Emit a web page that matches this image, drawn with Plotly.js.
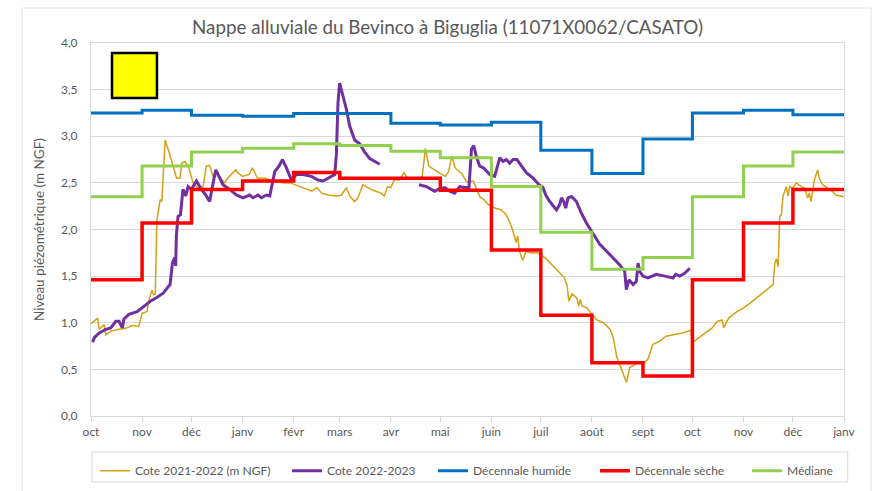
<!DOCTYPE html>
<html><head><meta charset="utf-8">
<script src="https://cdn.plot.ly/plotly-3.0.1.min.js"></script>
<style>html,body{margin:0;padding:0;background:#fff}#chart{width:881px;height:491px}</style>
</head><body><div id="chart"></div>
<script>
// ---- data ----
const monthStarts = ['2021-10-01','2021-11-01','2021-12-01','2022-01-01','2022-02-01','2022-03-01','2022-04-01','2022-05-01','2022-06-01','2022-07-01','2022-08-01','2022-09-01','2022-10-01','2022-11-01','2022-12-01','2023-01-01'];
const monthLabels = ['oct','nov','déc','janv','févr','mars','avr','mai','juin','juil','août','sept','oct','nov','déc','janv'];
const yTicks = [0,0.5,1,1.5,2,2.5,3,3.5,4];

// monthly reference levels (m NGF), oct -> déc
const decennaleHumide = [3.25,3.28,3.225,3.215,3.245,3.245,3.14,3.12,3.15,2.85,2.60,2.97,3.25,3.28,3.23];
const decennaleSeche  = [1.46,2.07,2.43,2.52,2.61,2.55,2.55,2.42,1.78,1.08,0.57,0.43,1.46,2.07,2.43];
const mediane         = [2.35,2.68,2.83,2.87,2.92,2.90,2.84,2.77,2.46,1.97,1.575,1.70,2.35,2.68,2.83];

// days since 1 oct 2021
const cote2122Days = [0,4,5,8,9,12,17,21,25,29,31,34,35,37,38,39,40,42,43,44,45,47,50,52,54,55,57,59,62,65,68,70,72,74,76,79,81,84,88,89,92,96,98,101,106,110,117,121,124,127,131,134,137,140,144,149,152,155,157,160,162,165,167,170,173,176,178,180,182,184,187,190,192,195,199,201,203,205,210,212,215,217,219,221,225,228,232,234,236,238,241,245,249,252,255,257,258,259,260,262,264,267,271,276,282,287,289,290,292,295,296,297,298,301,304,307,311,315,317,319,322,325,327,332,336,338,341,345,349,354,359,364,365,369,373,377,380,383,384,387,392,396,400,404,408,412,414,415,416,417,418,419,420,422,423,424,426,428,431,433,435,436,437,439,441,442,444,447,450,452,455,457];
const cote2122 = [0.99,1.05,0.93,0.98,0.87,0.91,0.93,0.94,0.97,0.96,1.10,1.12,1.23,1.35,1.30,1.31,2.10,2.32,2.30,2.64,2.96,2.85,2.68,2.55,2.55,2.71,2.73,2.68,2.50,2.44,2.46,2.68,2.69,2.57,2.61,2.55,2.50,2.57,2.64,2.61,2.57,2.59,2.66,2.55,2.55,2.52,2.50,2.50,2.48,2.46,2.43,2.41,2.45,2.39,2.37,2.36,2.37,2.45,2.36,2.30,2.34,2.48,2.46,2.43,2.41,2.39,2.36,2.46,2.45,2.53,2.53,2.61,2.55,2.55,2.55,2.57,2.87,2.68,2.62,2.60,2.57,2.62,2.79,2.66,2.60,2.51,2.52,2.43,2.35,2.33,2.27,2.23,2.21,2.16,2.04,1.93,1.86,1.93,1.77,1.67,1.76,1.75,1.75,1.69,1.58,1.49,1.40,1.23,1.31,1.26,1.18,1.25,1.18,1.16,1.09,1.03,1.00,0.93,0.84,0.64,0.50,0.36,0.52,0.57,0.57,0.61,0.77,0.80,0.855,0.87,0.89,0.92,0.785,0.84,0.89,0.945,1.015,1.03,0.945,1.05,1.12,1.16,1.21,1.27,1.32,1.39,1.41,1.64,1.685,1.60,2.14,2.16,2.36,2.46,2.36,2.46,2.445,2.50,2.46,2.445,2.34,2.39,2.30,2.53,2.64,2.55,2.48,2.445,2.41,2.37,2.36,2.35];

const cote2223Days = [1,2,5,9,12,15,17,19,20,23,28,32,36,40,44,47,48,49.4,50.8,51.4,51.8,52.8,54.3,55.8,57.5,58.9,60.9,64,67,70,72,73.7,75.7,77.1,80.1,84.2,88.2,92.2,96.3,98.3,101.4,103.4,106.5,108.5,109.5,111.5,114.1,116.2,118.6,121.6,124.7,128.7,133.8,137.8,140.8,143.8,147.9,148.9,149.9,150.9,152.9,155,157,160,163.1,166.1,169.2,172.2,175.2,
  187,
  199.1,203.6,208.6,210.6,214.7,217.7,220.7,223.8,226.8,229.4,230.9,232.3,233.9,235.9,238.3,242,245,248.1,250,252.1,254.1,256.1,258.5,261.2,264.2,268.3,271.9,274.3,276,278.4,282.5,284.5,285.5,286.9,288.1,289.5,291.6,294.6,297.6,300.7,304.7,308.8,312.8,316.8,320.9,323.9,324.9,326.5,329,331,332,333,335,338,343.1,348.2,353.2,354.9,357.3,360.3,363.4];
const cote2223 = [0.79,0.84,0.89,0.93,0.945,1.015,1.015,0.945,1.04,1.09,1.12,1.18,1.23,1.27,1.32,1.39,1.41,1.64,1.70,1.61,1.93,2.14,2.16,2.43,2.36,2.46,2.43,2.52,2.43,2.36,2.30,2.46,2.64,2.59,2.48,2.43,2.37,2.34,2.37,2.34,2.37,2.34,2.37,2.36,2.45,2.62,2.68,2.75,2.66,2.53,2.59,2.59,2.57,2.53,2.52,2.55,2.59,2.80,3.36,3.57,3.43,3.29,3.11,2.96,2.92,2.83,2.76,2.73,2.70,
  null,
  2.48,2.46,2.41,2.43,2.45,2.41,2.39,2.46,2.45,2.45,2.86,2.90,2.78,2.68,2.66,2.59,2.57,2.77,2.73,2.75,2.71,2.75,2.75,2.68,2.61,2.55,2.48,2.45,2.37,2.30,2.21,2.27,2.34,2.30,2.23,2.34,2.355,2.30,2.175,2.07,1.95,1.84,1.77,1.70,1.62,1.55,1.355,1.46,1.41,1.445,1.64,1.55,1.50,1.48,1.52,1.50,1.48,1.52,1.50,1.53,1.585];

// ---- helpers ----
const t0 = Date.UTC(2021,9,1);
function dayToDate(d){ return new Date(t0 + d*86400000).toISOString().slice(0,19).replace('T',' '); }
function stepY(arr){ return arr.concat([arr[arr.length-1]]); }

const grey = '#595959';
const FONT = 'Lato, "Open Sans", sans-serif';

const traces = [
  {x: cote2122Days.map(dayToDate), y: cote2122, name: 'Cote 2021-2022 (m NGF)', mode: 'lines', legend: 'legend',
   line: {color: '#D4A017', width: 1.5}},
  {x: cote2223Days.map(dayToDate), y: cote2223, name: 'Cote 2022-2023', mode: 'lines', connectgaps: false, legend: 'legend2',
   line: {color: '#7030A0', width: 3}},
  {x: monthStarts, y: stepY(decennaleHumide), name: 'Décennale humide', mode: 'lines', legend: 'legend3',
   line: {color: '#0070C0', width: 3, shape: 'hv'}},
  {x: monthStarts, y: stepY(decennaleSeche), name: 'Décennale sèche', mode: 'lines', legend: 'legend4',
   line: {color: '#FF0000', width: 3.5, shape: 'hv'}},
  {x: monthStarts, y: stepY(mediane), name: 'Médiane', mode: 'lines', legend: 'legend5',
   line: {color: '#92D050', width: 3, shape: 'hv'}}
];

function leg(x){
  return {orientation: 'h', x: x, xanchor: 'left', y: -0.108, yanchor: 'top',
          bgcolor: 'rgba(0,0,0,0)', borderwidth: 0, font: {size: 12, color: grey}, itemwidth: 30};
}

const layout = {
  width: 881, height: 491,
  margin: {l: 91, r: 37, t: 43, b: 75, autoexpand: false},
  paper_bgcolor: '#fff', plot_bgcolor: '#fff',
  separators: ', ',
  font: {family: FONT, color: grey, size: 12},
  title: {text: 'Nappe alluviale du Bevinco à Biguglia (11071X0062/CASATO)',
          font: {family: FONT, size: 18.8, color: grey},
          xref: 'container', yref: 'container', x: 0.508, xanchor: 'center', y: 0.945, yanchor: 'middle'},
  xaxis: {type: 'date', range: ['2021-10-01','2023-01-01'], automargin: false,
          tickmode: 'array', tickvals: monthStarts, ticktext: monthLabels,
          showgrid: false, zeroline: false, showline: true, linecolor: '#d9d9d9', linewidth: 1, mirror: true,
          ticks: 'outside', ticklen: 5, tickcolor: '#d9d9d9', tickfont: {size: 12, color: grey}},
  yaxis: {range: [0,4], tickmode: 'array', tickvals: yTicks, tickformat: '.1f', automargin: false,
          showgrid: true, gridcolor: '#d9d9d9', gridwidth: 1, zeroline: false,
          showline: true, linecolor: '#d9d9d9', mirror: true, ticks: '', ticklabelstandoff: 10,
          tickfont: {size: 12, color: grey},
          title: {text: 'Niveau piézométrique (m NGF)', font: {size: 13.5, color: grey}, standoff: 13}},
  showlegend: true,
  legend: leg(0.0053),
  legend2: leg(0.2603),
  legend3: leg(0.4542),
  legend4: leg(0.6693),
  legend5: leg(0.8712),
  shapes: [
    {type: 'rect', xref: 'paper', yref: 'paper', x0: 0.0279, x1: 0.0876, y0: 0.8525, y1: 0.973,
     fillcolor: '#FFFF00', line: {color: '#000', width: 2.5}},
    {type: 'rect', xref: 'paper', yref: 'paper', x0: 0.0013, x1: 1.005, y0: -0.177, y1: -0.0965,
     fillcolor: 'rgba(0,0,0,0)', line: {color: '#d9d9d9', width: 1}},
    {type: 'rect', xref: 'paper', yref: 'paper', x0: -0.0916, x1: 1.0359, y0: -0.25, y1: 1.0938,
     fillcolor: 'rgba(0,0,0,0)', line: {color: '#e3e3e3', width: 1}}
  ]
};

Plotly.newPlot('chart', traces, layout, {displayModeBar: false, staticPlot: true});
</script>
</body></html>
